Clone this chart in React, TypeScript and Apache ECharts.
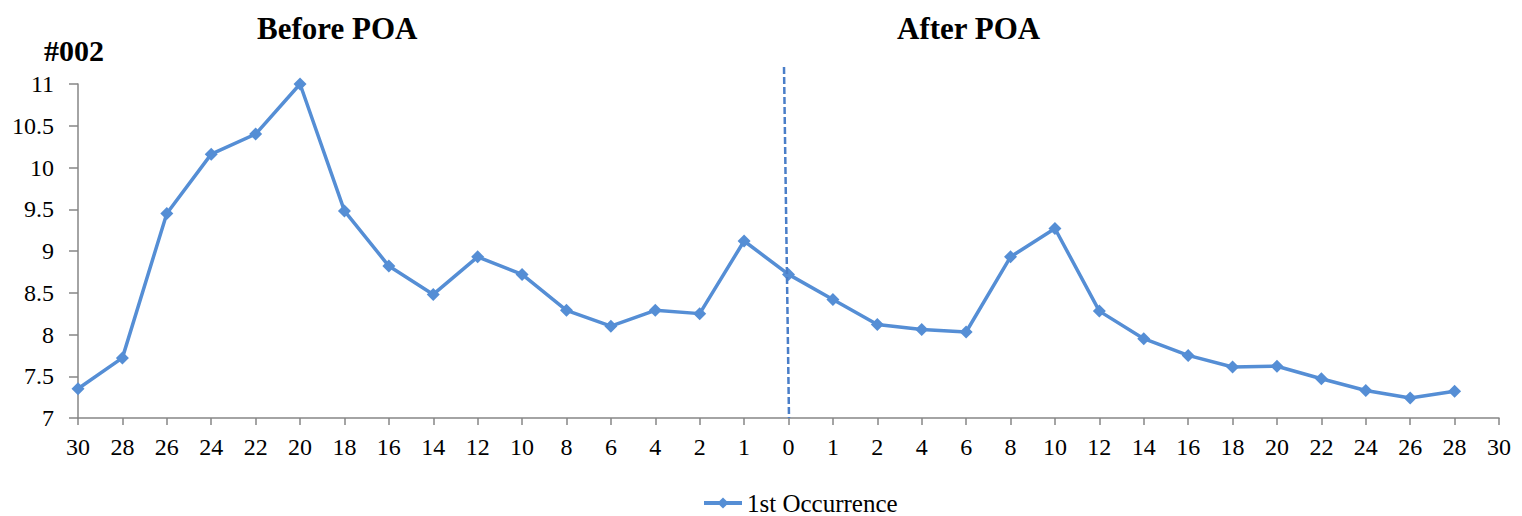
import React, { useEffect, useRef } from "react";
import * as echarts from "echarts";

const categories = ["30","28","26","24","22","20","18","16","14","12","10","8","6","4","2","1","0","1","2","4","6","8","10","12","14","16","18","20","22","24","26","28","30"];
const occurrence1 = [7.35,7.72,9.45,10.16,10.4,11.0,9.48,8.82,8.48,8.93,8.72,8.29,8.1,8.29,8.25,9.12,8.72,8.42,8.12,8.06,8.03,8.93,9.27,8.28,7.95,7.75,7.61,7.62,7.47,7.33,7.24,7.32,null];
const seriesName = "1st Occurrence";
const yTicks = { min: 7, max: 11, interval: 0.5 };

const FONT = "Liberation Serif";

export default function App() {
  const ref = useRef<HTMLDivElement>(null);
  useEffect(() => {
    const chart = echarts.init(ref.current!, null, { renderer: "svg" });
    chart.setOption({
      animation: false,
      textStyle: { fontFamily: FONT },
      grid: { left: 78, right: 23, top: 84, bottom: 98, containLabel: false },
      legend: {
        top: 490,
        left: 702,
        padding: 0,
        data: [seriesName],
        itemWidth: 38,
        itemHeight: 14,
        itemGap: 5,
        lineStyle: { width: 4, color: "#558ED5" },
        textStyle: { fontFamily: FONT, fontSize: 25, color: "#000", lineHeight: 26 },
      },
      xAxis: {
        type: "category",
        data: categories,
        boundaryGap: false,
        axisLine: { lineStyle: { color: "#868686", width: 1.5 } },
        axisTick: { alignWithLabel: true, length: 7, lineStyle: { color: "#868686", width: 1.5 } },
        axisLabel: { interval: 0, color: "#000", fontSize: 24, fontFamily: FONT, margin: 17 },
        splitLine: { show: false },
      },
      yAxis: {
        type: "value",
        min: yTicks.min,
        max: yTicks.max,
        interval: yTicks.interval,
        axisLine: { show: true, lineStyle: { color: "#868686", width: 1.5 } },
        axisTick: { show: true, length: 9, lineStyle: { color: "#868686", width: 1.5 } },
        axisLabel: { color: "#000", fontSize: 24, fontFamily: FONT, margin: 24 },
        splitLine: { show: false },
      },
      series: [
        {
          name: seriesName,
          type: "line",
          data: occurrence1,
          symbol: "diamond",
          symbolSize: 13,
          lineStyle: { color: "#558ED5", width: 3.5 },
          itemStyle: { color: "#558ED5" },
          connectNulls: false,
        },
      ],
      graphic: [
        { type: "text", style: { x: 44, y: 50, text: "#002", font: `bold 30px ${FONT}`, fill: "#000", verticalAlign: "middle" } },
        { type: "text", style: { x: 257, y: 28, text: "Before POA", font: `bold 31px ${FONT}`, fill: "#000", verticalAlign: "middle" } },
        { type: "text", style: { x: 897, y: 28, text: "After POA", font: `bold 31px ${FONT}`, fill: "#000", verticalAlign: "middle" } },
        {
          type: "line",
          shape: { x1: 784, y1: 67, x2: 789, y2: 418 },
          style: { stroke: "#4A7EC8", lineWidth: 2.5, lineDash: [7, 3] },
          z: 10,
        },
      ],
    });
    return () => chart.dispose();
  }, []);
  return <div ref={ref} style={{ position: "absolute", left: 0, top: 0, width: 1522, height: 516 }} />;
}
